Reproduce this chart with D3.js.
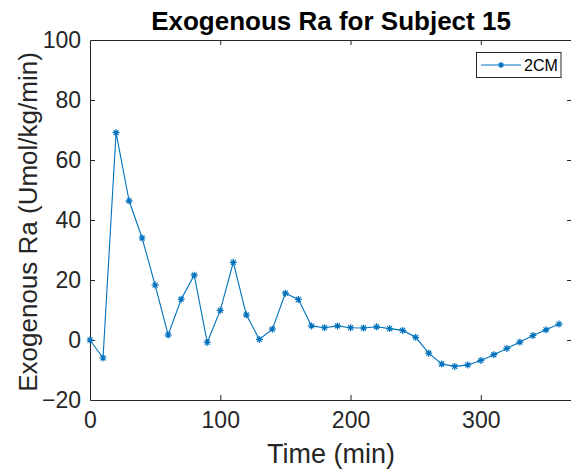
<!DOCTYPE html>
<html>
<head>
<meta charset="utf-8">
<script src="https://cdn.jsdelivr.net/npm/d3@7"></script>
<style>
  html, body { margin: 0; padding: 0; background: #fff; }
  svg { display: block; font-family: "Liberation Sans", Arial, Helvetica, sans-serif; }
</style>
</head>
<body>
<div id="chart"></div>
<script>
const timeMin = [0,10,20,30,40,50,60,70,80,90,100,110,120,130,140,150,160,170,180,190,200,210,220,230,240,250,260,270,280,290,300,310,320,330,340,350,360];
const exoRa2CM = [0,-6,69.1,46.4,34,18.3,1.7,13.6,21.6,-0.8,9.9,25.9,8.4,0.2,3.6,15.6,13.5,4.7,4.1,4.7,4.1,4.0,4.4,3.8,3.2,0.9,-4.4,-8.0,-8.8,-8.3,-6.8,-4.9,-2.8,-0.7,1.5,3.4,5.3];
const xTicks = [0,100,200,300];
const yTicks = [-20,0,20,40,60,80,100];
const seriesName = "2CM";
const titleText = "Exogenous Ra for Subject 15";
const xLabelText = "Time (min)";
const yLabelText = "Exogenous Ra (Umol/kg/min)";

const W = 571, H = 471;
const L = 90, R = 572, T = 40, B = 400;
const axisColor = "#262626";
const lineColor = "#0072BD";

const svg = d3.select("#chart").append("svg").attr("width", W).attr("height", H);

const x = d3.scaleLinear().domain([0, 370]).range([L, R]);
const y = d3.scaleLinear().domain([-20, 100]).range([B, T]);

const tickLen = 5;
const gx = svg.append("g").attr("transform", `translate(0,${B})`)
  .call(d3.axisBottom(x).tickValues(xTicks).tickSizeInner(-tickLen).tickSizeOuter(0).tickPadding(12));
const gxt = svg.append("g").attr("transform", `translate(0,${T})`)
  .call(d3.axisTop(x).tickValues(xTicks).tickSizeInner(-tickLen).tickSizeOuter(0).tickFormat(""));
const gy = svg.append("g").attr("transform", `translate(${L},0)`)
  .call(d3.axisLeft(y).tickValues(yTicks).tickSizeInner(-tickLen).tickSizeOuter(0).tickPadding(9));
const gyr = svg.append("g").attr("transform", `translate(${R},0)`)
  .call(d3.axisRight(y).tickValues(yTicks).tickSizeInner(-tickLen).tickSizeOuter(0).tickFormat(""));

[gx, gxt, gy, gyr].forEach(g => {
  g.select(".domain").attr("stroke", axisColor).attr("stroke-width", 1);
  g.selectAll(".tick line").attr("stroke", axisColor).attr("stroke-width", 1);
  g.selectAll(".tick text").attr("fill", axisColor).attr("font-size", 23).attr("font-family", "Liberation Sans, Arial, sans-serif");
});
gxt.selectAll(".tick").filter(d => d === 0).remove();
gx.selectAll(".tick line").filter(d => d === 0).remove();
gy.selectAll(".tick line").filter(d => d === -20 || d === 100).remove();
gyr.selectAll(".tick line").filter(d => d === -20 || d === 100).remove();

const line = d3.line().x((d, i) => x(timeMin[i])).y(d => y(d));
svg.append("path").datum(exoRa2CM)
  .attr("fill", "none").attr("stroke", lineColor).attr("stroke-width", 1.1)
  .attr("d", line);

function asterisk(g, cx, cy, r) {
  const d = r * 0.7071;
  g.append("path")
    .attr("d", `M${cx - r},${cy}L${cx + r},${cy}M${cx},${cy - r}L${cx},${cy + r}M${cx - d},${cy - d}L${cx + d},${cy + d}M${cx - d},${cy + d}L${cx + d},${cy - d}`)
    .attr("stroke", lineColor).attr("stroke-width", 1.2).attr("fill", "none");
}
const mk = svg.append("g");
exoRa2CM.forEach((v, i) => asterisk(mk, x(timeMin[i]), y(v), 3.5));

svg.append("text").attr("x", (L + R) / 2).attr("y", 30)
  .attr("text-anchor", "middle").attr("font-size", 26).attr("font-weight", "bold")
  .attr("font-family", "Liberation Sans, Arial, sans-serif")
  .attr("fill", "#000").text(titleText);

svg.append("text").attr("x", (L + R) / 2).attr("y", 463)
  .attr("text-anchor", "middle").attr("font-size", 27)
  .attr("font-family", "Liberation Sans, Arial, sans-serif")
  .attr("fill", axisColor).text(xLabelText);

svg.append("text").attr("transform", `translate(37,${(T + B) / 2 + 2}) rotate(-90)`)
  .attr("text-anchor", "middle").attr("font-size", 26)
  .attr("font-family", "Liberation Sans, Arial, sans-serif")
  .attr("fill", axisColor).text(yLabelText);

const lg = svg.append("g");
lg.append("rect").attr("x", 476.5).attr("y", 52.5).attr("width", 84.5).attr("height", 25)
  .attr("fill", "#fff").attr("stroke", axisColor).attr("stroke-width", 1);
lg.append("line").attr("x1", 481).attr("x2", 521).attr("y1", 65).attr("y2", 65)
  .attr("stroke", lineColor).attr("stroke-width", 1.1);
asterisk(lg, 501, 65, 3);
lg.append("text").attr("x", 524).attr("y", 71).attr("font-size", 16)
  .attr("font-family", "Liberation Sans, Arial, sans-serif")
  .attr("fill", "#000").text(seriesName);
</script>
</body>
</html>
